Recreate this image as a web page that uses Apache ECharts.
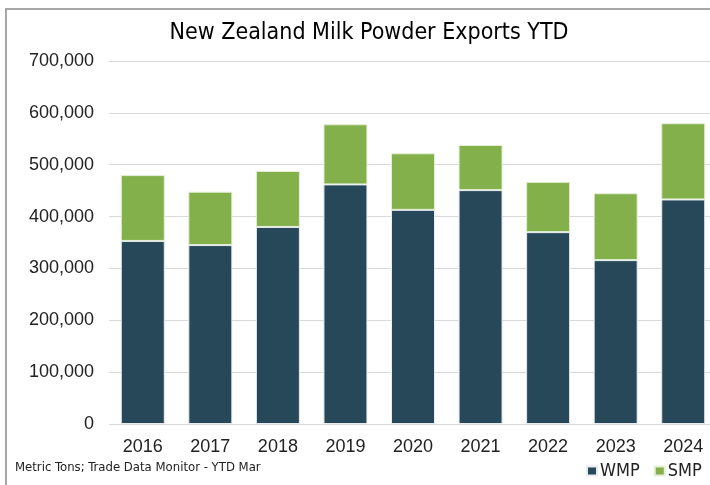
<!DOCTYPE html>
<html>
<head>
<meta charset="utf-8">
<script src="https://cdn.jsdelivr.net/npm/echarts@6/dist/echarts.min.js"></script>
<style>
  html, body { margin: 0; padding: 0; background: #fff; overflow: hidden; }
  #wrap { position: relative; width: 710px; height: 485px; overflow: hidden; }
  #chart { width: 710px; height: 485px; }
  /* only the left and top edges of the outer frame are inside the picture */
  #frame {
    position: absolute; left: 5px; top: 8px; width: 800px; height: 600px;
    border-left: 2px solid #a6a6a6; border-top: 2px solid #a6a6a6;
    pointer-events: none;
  }
</style>
</head>
<body>
<div id="wrap">
  <div id="chart"></div>
  <div id="frame"></div>
</div>
<script>
// years on the x axis
const years = ['2016', '2017', '2018', '2019', '2020', '2021', '2022', '2023', '2024'];
// metric tons
const wmp = [353000, 345000, 380000, 462000, 413000, 451000, 370000, 316000, 433000];
const smp = [127000, 103000, 108000, 116000, 109000, 87000, 97000, 129000, 147000];

const narrow = "'Liberation Sans Narrow', 'DejaVu Sans Condensed', sans-serif";
const chart = echarts.init(document.getElementById('chart'));

chart.setOption({
  animation: false,
  title: {
    text: 'New Zealand Milk Powder Exports YTD',
    left: 364,
    textAlign: 'center',
    top: 17,
    textStyle: { fontFamily: narrow, fontSize: 23, fontWeight: 'normal', color: '#000' }
  },
  legend: {
    left: 581,
    top: 457,
    itemWidth: 10,
    itemHeight: 9,
    itemGap: 14,
    icon: 'rect',
    textStyle: { fontFamily: narrow, fontSize: 18, color: '#222', padding: [0, 0, 0, -2] },
    data: ['WMP', 'SMP']
  },
  graphic: [
    {
      type: 'text',
      left: 15,
      top: 461,
      style: {
        text: 'Metric Tons; Trade Data Monitor - YTD Mar',
        font: "13px " + narrow,
        fill: '#222'
      }
    }
  ],
  grid: { left: 109, top: 61, width: 608, height: 363, outerBoundsMode: 'none', containLabel: false },
  xAxis: {
    type: 'category',
    data: years,
    axisLine: { show: false },
    axisTick: { show: false },
    axisLabel: { fontFamily: "'Liberation Sans', Arial, sans-serif", fontSize: 18, color: '#222', margin: 14 }
  },
  yAxis: {
    type: 'value',
    min: 0,
    max: 700000,
    interval: 100000,
    axisLine: { show: false },
    axisTick: { show: false },
    splitLine: { lineStyle: { color: '#d9d9d9', width: 1 } },
    axisLabel: {
      fontFamily: "'Liberation Sans', Arial, sans-serif",
      fontSize: 18,
      color: '#222',
      margin: 15,
      formatter: v => v.toLocaleString('en-US')
    }
  },
  series: [
    {
      name: 'WMP',
      type: 'bar',
      stack: 'total',
      barWidth: 44,
      itemStyle: { color: '#264858', borderColor: '#e6ecef', borderWidth: 1 },
      data: wmp
    },
    {
      name: 'SMP',
      type: 'bar',
      stack: 'total',
      barWidth: 44,
      itemStyle: { color: '#84b04b', borderColor: '#e4efd8', borderWidth: 1 },
      data: smp
    }
  ]
});
</script>
</body>
</html>
